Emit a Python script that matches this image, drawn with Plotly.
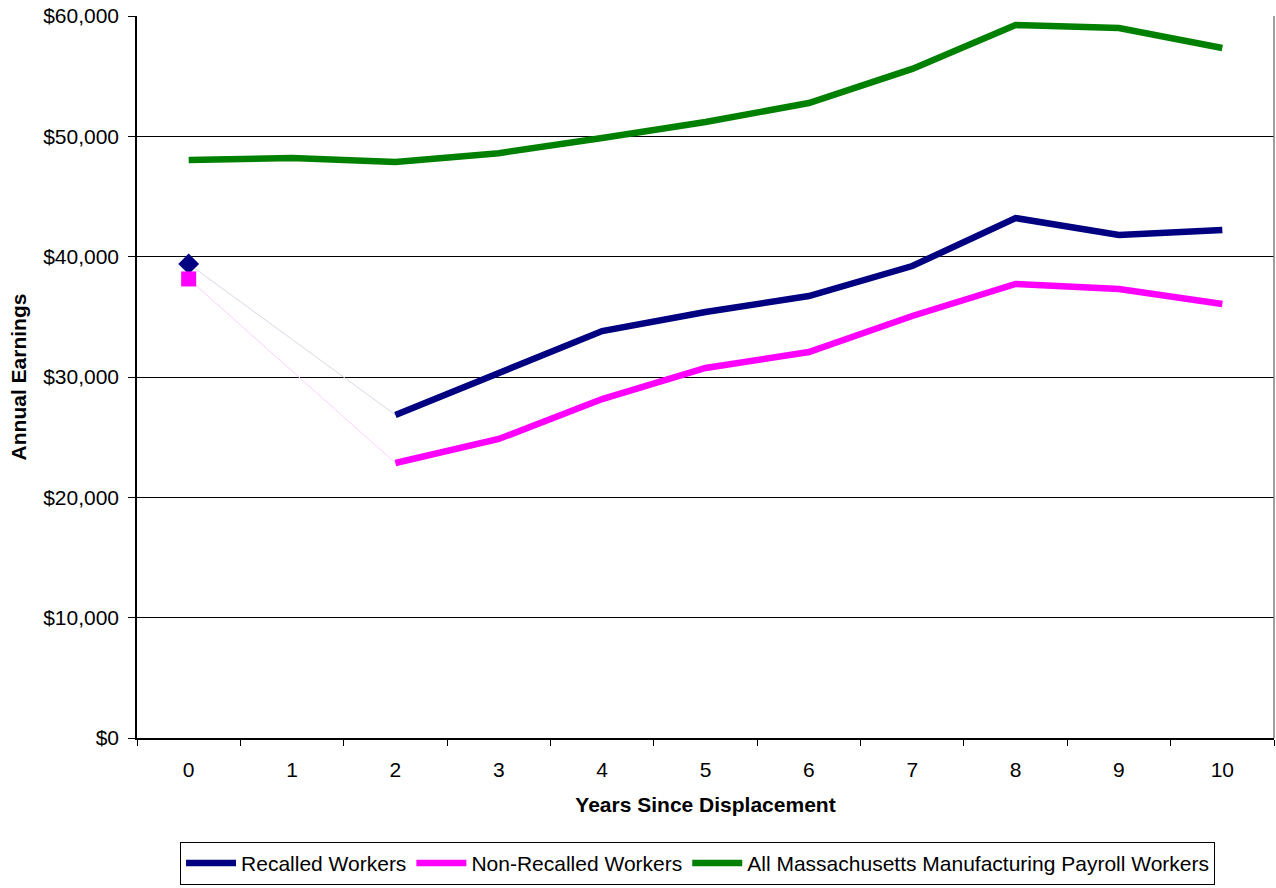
import plotly.graph_objects as go

years = ["0", "1", "2", "3", "4", "5", "6", "7", "8", "9", "10"]
recalled = [39400, None, 26850, 30330, 33820, 35400, 36730, 39220, 43210, 41800, 42220]
non_recalled = [38150, None, 22850, 24850, 28170, 30750, 32080, 35070, 37730, 37310, 36070]
all_mass = [48030, 48200, 47870, 48600, 49860, 51190, 52770, 55600, 59250, 59000, 57340]
y_ticks = [0, 10000, 20000, 30000, 40000, 50000, 60000]
y_tick_labels = ["$0", "$10,000", "$20,000", "$30,000", "$40,000", "$50,000", "$60,000"]

NAVY = "#000080"
PINK = "#FF00FF"
GREEN = "#008000"

fig = go.Figure()

# faint connectors across the gap (year 0 to year 2)
fig.add_trace(go.Scatter(x=[years[0], years[2]], y=[recalled[0], recalled[2]], mode="lines",
                         line=dict(color="#D8D8E8", width=1), showlegend=False, hoverinfo="skip"))
fig.add_trace(go.Scatter(x=[years[0], years[2]], y=[non_recalled[0], non_recalled[2]], mode="lines",
                         line=dict(color="#FFD0FF", width=1), showlegend=False, hoverinfo="skip"))

fig.add_trace(go.Scatter(x=years, y=recalled, mode="lines", name="Recalled Workers",
                         line=dict(color=NAVY, width=6.5), connectgaps=False))
fig.add_trace(go.Scatter(x=years, y=non_recalled, mode="lines", name="Non-Recalled Workers",
                         line=dict(color=PINK, width=6.5), connectgaps=False))
fig.add_trace(go.Scatter(x=years, y=all_mass, mode="lines",
                         name="All Massachusetts Manufacturing Payroll Workers",
                         line=dict(color=GREEN, width=6.5)))

# year-0 markers
fig.add_trace(go.Scatter(x=[years[0]], y=[recalled[0]], mode="markers",
                         marker=dict(symbol="diamond", color=NAVY, size=16), showlegend=False))
fig.add_trace(go.Scatter(x=[years[0]], y=[non_recalled[0]], mode="markers",
                         marker=dict(symbol="square", color=PINK, size=15), showlegend=False))

fig.update_layout(
    width=1276, height=888,
    margin=dict(l=137, r=2, t=16, b=150),
    paper_bgcolor="white", plot_bgcolor="white",
    font=dict(family="Liberation Sans, Arial, sans-serif", size=21, color="black"),
    showlegend=True,
    legend=dict(orientation="h", x=0.493, xanchor="center", y=-0.144, yanchor="top",
                bordercolor="black", borderwidth=1, font=dict(size=21),
                itemwidth=50, tracegroupgap=0),
    shapes=[dict(type="line", xref="paper", yref="paper", x0=1, x1=1, y0=0, y1=1,
                 line=dict(color="#808080", width=1.5))],
)

fig.update_xaxes(
    type="category", categoryorder="array", categoryarray=years,
    tickson="boundaries", ticks="outside", ticklen=6, tickcolor="black",
    showline=True, linecolor="black", linewidth=1.5, showgrid=False,
    range=[-0.5, 10.5], ticklabelstandoff=12, automargin=False,
    title=dict(text="<b>Years Since Displacement</b>", font=dict(size=21), standoff=17),
)
fig.update_yaxes(
    range=[0, 60000], tickvals=y_ticks, ticktext=y_tick_labels,
    ticks="outside", ticklen=7, tickcolor="black", ticklabelstandoff=5,
    ticklabeloverflow="allow",
    showline=True, linecolor="black", linewidth=1.5, automargin=False,
    showgrid=True, gridcolor="black", gridwidth=1, zeroline=False,
    title=dict(text="<b>Annual Earnings</b>", font=dict(size=21), standoff=11),
)

fig.write_html("out.html", config={"displayModeBar": False},
               post_script="document.body.style.margin='0';")
